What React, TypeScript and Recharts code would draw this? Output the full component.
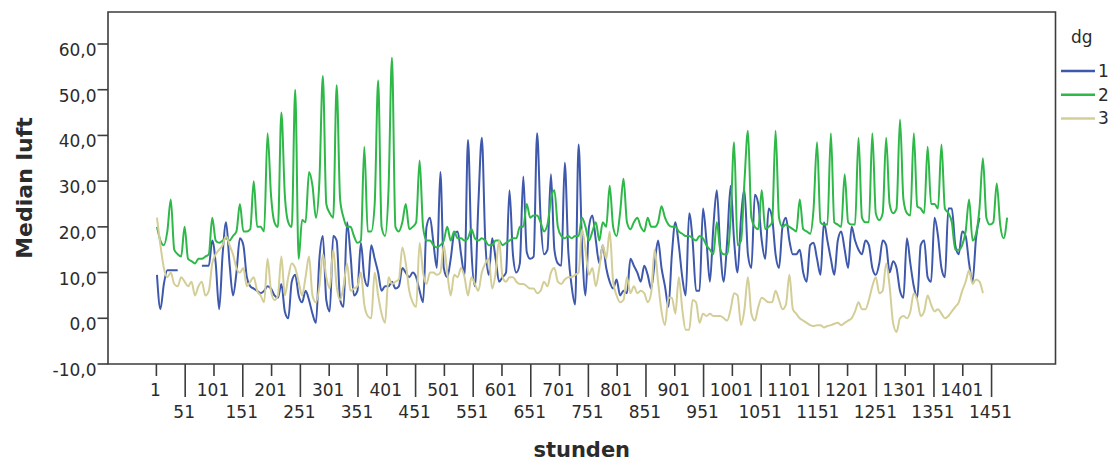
import React from "react";
import { LineChart, Line, XAxis, YAxis, ReferenceArea } from "recharts";

// Median luft per dg, one reading every 6 hours from hour 2 on (4 readings per day, 2 days per row)
const FIRST_HOUR = 2;
const HOUR_STEP = 6;

const dg1: (number | null)[] = [
  9.5, 2, 7.5, 10.5, 10.5, 10.5, 10.5, null,
  null, null, null, null, null, 11.5, 11.5, 11.5,
  17, 12, 2, 14, 21, 12, 5, 10,
  17.5, 16, 9, 7, 6.5, 6, 5.5, 6,
  7, 6.5, 5, 4.5, 7.5, 1.5, 0, 8,
  9.5, 5, 3.5, 6, 4, 1, -1, 13,
  18, 4, 1.5, 18, 17, 4, 2.5, 21,
  14, 5, 6, 16.5, 9, 7, 16, 13,
  10, 6, 7, 7, 8, 6.5, 7, 11,
  10, 9, 10, 9, 6, 3.5, 20, 22,
  16.5, 11, 32, 11, 9, 13, 18.5, 19,
  14, 9.5, 39, 15, 7, 25, 39.5, 17,
  9.5, 17.5, 13, 8, 9, 10, 28, 14,
  10, 12, 31, 14.5, 13, 13.5, 40.5, 22,
  14, 15, 31.5, 15, 12, 11.5, 34, 15,
  7, 3, 38, 16, 5, 20, 22.5, 17,
  12, 16, 11, 8, 6.5, 8.5, 5, 6,
  5.5, 13, 11.5, 10, 8, 11.5, 9.5, 6.5,
  12, 17, 11, 7, 2.5, 14, 21, 16,
  9, 5, 23, 17, 6, 6, 24, 17,
  8, 20, 28, 15, 8, 17, 29, 17,
  10, 22, 28, 14, 11, 27, 25, 17,
  13, 24, 22, 14, 11, 20, 22, 17,
  14, 14, 15, 10, 8, 16, 16.5, 13,
  9.5, 21, 17, 13, 9.5, 17, 19, 15,
  11, 20, 17, 15, 14, 17, 16, 11,
  9.5, 12, 17, 16, 10, 12.5, 11, 6,
  4.5, 17.5, 12, 7, 4.5, 16, 17, 9,
  8, 22, 18, 11, 9, 24, 24, 16,
  14, 19, 18, 12, 8, 17.5, 22, null,
  null, null, null, null, null, null, null,
];

const dg2: (number | null)[] = [
  20, 17, 16, 19, 26, 15, 14, 13.5,
  20, 13, 12.5, 12, 13, 13, 13.5, 14,
  22, 17, 16.5, 17, 17.5, 17, 18, 19,
  25, 19, 19, 19.5, 30, 20, 20, 19,
  40.5, 27, 21, 20, 45, 27, 21, 20,
  50, 13, 21.5, 21, 32, 29, 22, 30,
  53, 25, 23, 22, 51, 26, 22, 20,
  20, 18, 16.5, 17, 37.5, 19, 19, 25,
  52, 20, 18, 28, 57, 20, 19, 21,
  25, 19.5, 20, 21, 34.5, 20, 17, 17,
  16, 15.5, 16, 17, 20, 17, 19, 17.5,
  17.5, 17, 17.5, 19.5, 17.5, 17, 17.5, 17,
  16, 16, 17, 17, 16, 16.5, 17, 17.5,
  17.5, 20, 20, 25, 22, 22.5, 22.5, 21,
  19, 20.5, 26, 28, 20, 18, 17.5, 18,
  17.5, 18, 18, 22, 20, 17, 19, 21,
  17, 21, 20, 29, 20, 18, 23, 30.5,
  21, 19.5, 21, 22, 20, 19, 22, 20,
  20, 21, 24.5, 22, 20.5, 20, 20, 19,
  18.5, 18, 18, 17.5, 17, 18, 17.5, 16,
  15, 14, 21, 15, 14, 14, 22, 38.5,
  16, 17, 30, 41, 22, 20, 19.5, 28,
  19.5, 20, 21, 41, 22, 20, 20.5, 20,
  19.5, 19, 26, 19.5, 19, 18.5, 24, 38.5,
  21, 20.5, 20.5, 40.5, 21, 20.5, 20, 31.5,
  21, 20.5, 20.5, 39.5, 22, 21, 21, 40.5,
  23, 21.5, 23, 39.5, 25, 23, 24, 43.5,
  26, 23, 22.5, 40.5, 24.5, 24, 23, 37.5,
  25, 25, 24, 38, 24, 23, 21, 15,
  15, 16, 19, 26, 17, 18.5, 24, 35,
  22, 20.5, 21, 29.5, 20.5, 17.5, 22,
];

const dg3: (number | null)[] = [
  22, 16, 11, 9, 10, 7.5, 7, 9,
  8, 7, 8, 5, 7, 8, 5, 6,
  12, 14, 15, 16, 18, 16, 14, 11,
  10, 11, 7, 8, 9, 6, 5, 3.5,
  13, 6, 4, 5, 13.5, 5, 9, 12,
  11, 8, 5, 9, 13.5, 5, 3.5, 7,
  14, 9, 6.5, 15, 7, 4, 7, 12,
  6, 6.5, 7, 10, 3, 0.5, 0, 10,
  5, 1, -1, 9, 7.5, 8, 8.5, 15.5,
  12, 6, 3.5, 2.5, 16.5, 10, 7.5, 10,
  10, 9.5, 10, 16, 10, 5, 9.5, 9,
  11, 9, 5, 9, 7.5, 6, 10, 12,
  13, 6.5, 10, 17, 9, 8, 9, 9,
  8, 7.5, 7.5, 7, 6.5, 6.5, 5.5, 6,
  8, 7, 10, 11, 8, 7.5, 8.5, 9,
  9, 9.5, 10, 19.5, 15, 9.5, 11, 7,
  11, 16, 13, 19, 8, 5, 3.5, 4,
  9, 5.5, 7, 5.5, 6, 5.5, 3.5, 5.5,
  15, 8, 1.5, -1.5, 4.5, 4.5, 1, 9,
  2, -2.5, -2.5, 4, 3.5, -1, 1, 0.5,
  1, 0.5, 0.5, 0.5, 0, -0.5, 2, 5.5,
  5, -1.5, 2, 9, 1, -0.5, 2.5, 4.5,
  4, 3.5, 3.5, 6, 4, 2, 3, 9.5,
  2, 1, 0, -0.5, -1, -1.5, -1.7, -1.5,
  -1.5, -2, -1.7, -1.5, -1.2, -1, -1.5, -1,
  -0.5, 0, 1.5, 3.5, 2, 2, 4, 7,
  9, 5.5, 6, 12, 7, -1, -3, 0,
  0.5, 0, 1.5, 5.5, 4, 0.5, 1.5, 5,
  3, 1.5, 2, 1, 0, 0.5, 1.5, 2.5,
  3.5, 6, 8, 10.5, 7.5, 8.5, 8, 5.5,
  null, null, null, null, null, null, null,
];

const hourTicks = [
  1, 51, 101, 151, 201, 251, 301, 351, 401, 451, 501, 551, 601, 651, 701,
  751, 801, 851, 901, 951, 1001, 1051, 1101, 1151, 1201, 1251, 1301, 1351, 1401, 1451,
];
const valueTicks = [-10, 0, 10, 20, 30, 40, 50, 60];

const groups = [
  { key: "dg1", name: "1", color: "#3E58AC", values: dg1 },
  { key: "dg2", name: "2", color: "#2EB848", values: dg2 },
  { key: "dg3", name: "3", color: "#D3CE97", values: dg3 },
];

const rows = dg2.map((_, i) => {
  const row: Record<string, number | null> = { stunden: FIRST_HOUR + HOUR_STEP * i };
  groups.forEach((g) => {
    row[g.key] = g.values[i] ?? null;
  });
  return row;
});

const HOUR_DOMAIN: [number, number] = [-83, 1562];
const VALUE_DOMAIN: [number, number] = [-10, 67];
const FONT = "'DejaVu Sans', sans-serif";
const INK = "#2b2b2b";
const FRAME = "#3c3c3c";

// every other hour label drops to a second row on a longer tick
function HourTick({ x, y, payload }: any) {
  const lower = ((payload.value - 1) / 50) % 2 === 1;
  return (
    <g>
      <line x1={x} x2={x} y1={y} y2={y + (lower ? 33 : 12)} stroke={FRAME} strokeWidth={1.6} />
      <text
        x={x - 1}
        y={y + (lower ? 54 : 32)}
        textAnchor="middle"
        fontFamily={FONT}
        fontSize={17}
        fill={INK}
      >
        {payload.value}
      </text>
    </g>
  );
}

function ValueTick({ x, y, payload }: any) {
  return (
    <g>
      <line x1={x - 10.5} x2={x} y1={y} y2={y} stroke={FRAME} strokeWidth={1.6} />
      <text x={x - 11.5} y={y + 12} textAnchor="end" fontFamily={FONT} fontSize={17} fill={INK}>
        {payload.value.toFixed(1).replace(".", ",")}
      </text>
    </g>
  );
}

function LegendBox() {
  return (
    <svg
      width={1112}
      height={464}
      style={{ position: "absolute", left: 0, top: 0, pointerEvents: "none" }}
    >
      <text x={1071} y={43} fontFamily={FONT} fontSize={17} fill={INK}>
        dg
      </text>
      {groups.map((g, i) => {
        const y = 71 + i * 23.7;
        return (
          <g key={g.key}>
            <line x1={1061} x2={1095} y1={y} y2={y} stroke={g.color} strokeWidth={2.5} />
            <text x={1098} y={y + 6} fontFamily={FONT} fontSize={17} fill={INK}>
              {g.name}
            </text>
          </g>
        );
      })}
    </svg>
  );
}

export default function App() {
  return (
    <div style={{ position: "absolute", left: 0, top: 0, width: 1112, height: 464, background: "#fff" }}>
      <LineChart width={1112} height={464} data={rows} margin={{ top: 12, right: 56.5, bottom: 0, left: 0 }}>
        <XAxis
          dataKey="stunden"
          type="number"
          domain={HOUR_DOMAIN}
          ticks={hourTicks}
          interval={0}
          height={100}
          tickSize={0}
          tickMargin={0}
          tickLine={false}
          axisLine={false}
          tick={<HourTick />}
          label={{
            value: "stunden",
            position: "insideBottom",
            offset: 7,
            style: { fontFamily: FONT, fontSize: 21, fontWeight: 700, fill: INK },
          }}
        />
        <YAxis
          type="number"
          domain={VALUE_DOMAIN}
          ticks={valueTicks}
          interval={0}
          width={108}
          tickSize={0}
          tickMargin={0}
          tickLine={false}
          axisLine={false}
          tick={<ValueTick />}
          label={{
            value: "Median luft",
            angle: -90,
            position: "insideLeft",
            offset: 24,
            style: { textAnchor: "middle", fontFamily: FONT, fontSize: 22, fontWeight: 700, fill: INK },
          }}
        />
        <ReferenceArea
          x1={HOUR_DOMAIN[0]}
          x2={HOUR_DOMAIN[1]}
          y1={VALUE_DOMAIN[0]}
          y2={VALUE_DOMAIN[1]}
          fill="none"
          stroke={FRAME}
          strokeWidth={1.6}
        />
        {groups.map((g) => (
          <Line
            key={g.key}
            dataKey={g.key}
            name={g.name}
            type="monotone"
            stroke={g.color}
            strokeWidth={2}
            dot={false}
            activeDot={false}
            isAnimationActive={false}
          />
        ))}
      </LineChart>
      <LegendBox />
    </div>
  );
}
